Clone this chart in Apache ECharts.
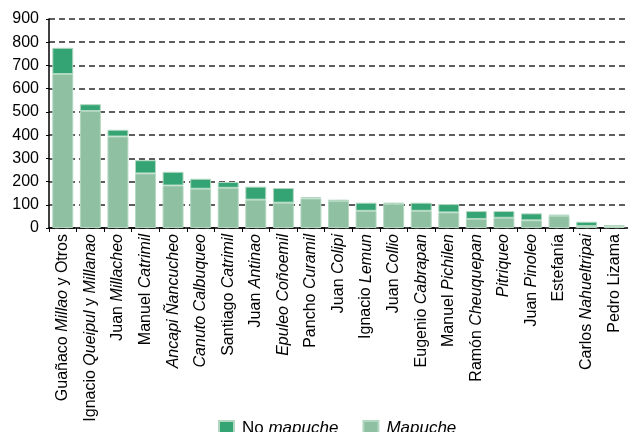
<!DOCTYPE html>
<html>
<head>
<meta charset="utf-8">
<script src="https://cdn.jsdelivr.net/npm/echarts@6/dist/echarts.min.js"></script>
<style>
  html, body { margin: 0; padding: 0; background: #fff; }
  #chart { width: 628px; height: 432px; }
</style>
</head>
<body>
<div id="chart"></div>
<script>
// names, italic parts wrapped in *...*
const categories = [
  'Guañaco *Millao* y Otros',
  'Ignacio *Queipul* y *Millanao*',
  'Juan *Millacheo*',
  'Manuel *Catrimil*',
  '*Ancapi Ñancucheo*',
  '*Canuto Calbuqueo*',
  'Santiago *Catrimil*',
  'Juan *Antinao*',
  '*Epuleo Coñoemil*',
  'Pancho *Curamil*',
  'Juan *Colipi*',
  'Ignacio *Lemun*',
  'Juan *Collio*',
  'Eugenio *Cabrapan*',
  'Manuel *Pichilen*',
  'Ramón *Cheuquepan*',
  '*Pitriqueo*',
  'Juan *Pinoleo*',
  'Estefanía',
  'Carlos *Nahueltripai*',
  'Pedro Lizama'
]
const mapuche = [663, 504, 394, 235, 183, 169, 173, 122, 109, 127, 116, 74, 104, 74, 67, 39, 44, 33, 53, 8, 6]
const noMapuche = [113, 29, 29, 57, 59, 43, 25, 56, 63, 6, 6, 35, 5, 35, 36, 34, 29, 30, 4, 19, 7]
const yTicks = { min: 0, max: 900, step: 100 }

const toRich = s => s.split('*').map((part, i) => {
  if (!part) return ''
  return i % 2 === 1 ? '{i|' + part + '}' : '{n|' + part + '}'
}).join('')

const darkGreen = '#34a474'
const lightGreen = '#8ec0a1'
const font = 'Liberation Sans, Arial, sans-serif'

const chart = echarts.init(document.getElementById('chart'))

chart.setOption({
  animation: false,
  grid: { left: 49, right: -7, top: 19, bottom: 204 },
  legend: {
    data: ['No mapuche', 'Mapuche'],
    left: 213,
    top: 415,
    icon: 'rect',
    itemWidth: 15,
    itemHeight: 15,
    itemGap: 24,
    formatter: name => name === 'No mapuche' ? '{n|No }{i|mapuche}' : '{i|Mapuche}',
    textStyle: {
      fontFamily: font,
      fontSize: 17,
      color: '#000',
      padding: [0, 0, 0, 3],
      rich: {
        n: { fontFamily: font, fontSize: 17, color: '#000' },
        i: { fontFamily: font, fontSize: 17, color: '#000', fontStyle: 'italic' }
      }
    }
  },
  xAxis: {
    type: 'category',
    data: categories,
    axisLine: { lineStyle: { color: '#000', width: 1.5 } },
    axisTick: { show: true, length: 4, lineStyle: { color: '#000' } },
    axisLabel: {
      rotate: 90,
      margin: 6,
      interval: 0,
      formatter: v => toRich(v),
      fontFamily: font,
      fontSize: 16,
      color: '#000',
      rich: {
        n: { fontFamily: font, fontSize: 16, color: '#000' },
        i: { fontFamily: font, fontSize: 16, color: '#000', fontStyle: 'italic' }
      }
    }
  },
  yAxis: {
    type: 'value',
    min: yTicks.min,
    max: yTicks.max,
    interval: yTicks.step,
    axisLine: { show: true, lineStyle: { color: '#000', width: 1.5 } },
    axisTick: { show: true, length: 3, lineStyle: { color: '#000' } },
    axisLabel: { margin: 10, fontFamily: font, fontSize: 16, color: '#000' },
    splitLine: { lineStyle: { color: '#2a2a2a', type: [6, 4], width: 1.5 } }
  },
  series: [
    {
      name: 'Mapuche',
      type: 'bar',
      stack: 'total',
      barCategoryGap: '24%',
      itemStyle: { color: lightGreen, borderColor: '#b3d8c1', borderWidth: 1 },
      data: mapuche
    },
    {
      name: 'No mapuche',
      type: 'bar',
      stack: 'total',
      barCategoryGap: '24%',
      itemStyle: { color: darkGreen, borderColor: '#b3d8c1', borderWidth: 1 },
      data: noMapuche
    }
  ]
})
</script>
</body>
</html>
